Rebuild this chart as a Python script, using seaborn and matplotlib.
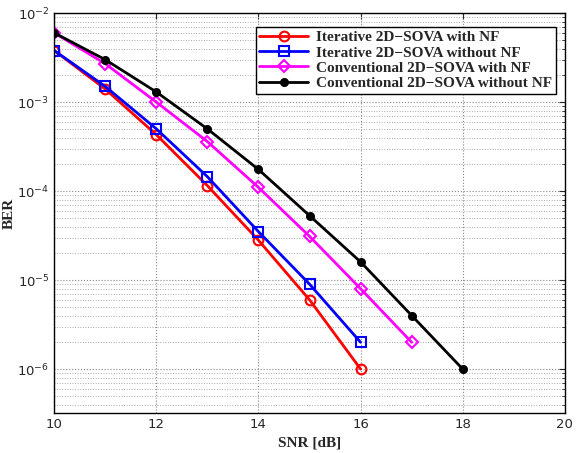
import pandas as pd
import matplotlib
matplotlib.use('Agg')
import matplotlib.pyplot as plt
import matplotlib.ticker as mticker
import seaborn as sns

snr = [10, 11, 12, 13, 14, 15, 16, 17, 18]
iter_nf = [3.8e-3, 1.4e-3, 4.3e-4, 1.15e-4, 2.8e-5, 6e-6, 1e-6]
iter_no_nf = [3.8e-3, 1.5e-3, 5e-4, 1.45e-4, 3.5e-5, 9e-6, 2e-6]
conv_nf = [6e-3, 2.7e-3, 1.0e-3, 3.6e-4, 1.1e-4, 3.1e-5, 8e-6, 2e-6]
conv_no_nf = [6e-3, 3e-3, 1.3e-3, 5e-4, 1.75e-4, 5.3e-5, 1.6e-5, 4e-6, 1e-6]

labels = ['Iterative 2D\u2212SOVA with NF', 'Iterative 2D\u2212SOVA without NF',
          'Conventional 2D\u2212SOVA with NF', 'Conventional 2D\u2212SOVA without NF']
series = [iter_nf, iter_no_nf, conv_nf, conv_no_nf]

rows = []
for lab, vals in zip(labels, series):
    for x, v in zip(snr, vals):
        rows.append({'SNR': x, 'BER': v, 'curve': lab})
df = pd.DataFrame(rows)

sns.set_style('white')
plt.rcParams['font.family'] = ['DejaVu Sans']

fig, ax = plt.subplots(figsize=(5.77, 4.53), dpi=100)

colors = ['#ff0000', '#0000ff', '#ff00ff', '#000000']
markers = ['o', 's', 'D', 'o']
for lab, col, mk in zip(labels, colors, markers):
    sub = df[df['curve'] == lab]
    filled = lab.startswith('Conventional 2D\u2212SOVA without')
    ms = 5 if filled else 7
    if mk == 'D':
        ms = 6
    sns.lineplot(data=sub, x='SNR', y='BER', ax=ax, color=col, lw=2,
                 marker=mk, markersize=ms,
                 markerfacecolor=col if filled else 'none',
                 markeredgecolor=col, markeredgewidth=1.5, label=lab)

ax.set_yscale('log')
ax.set_xlim(10, 20)
ax.set_ylim(3.2e-7, 1e-2)
ax.set_xticks([10, 12, 14, 16, 18, 20])
ax.yaxis.set_major_locator(mticker.LogLocator(base=10, numticks=10))
ax.yaxis.set_minor_locator(mticker.LogLocator(base=10, subs=range(2, 10), numticks=20))
ax.yaxis.set_minor_formatter(mticker.NullFormatter())

ax.grid(True, which='major', linestyle=':', color='#888888', lw=0.8)
ax.grid(True, which='minor', axis='y', linestyle=':', color='#aaaaaa', lw=0.7)
ax.tick_params(axis='both', which='major', labelsize=9.5, direction='in', length=4)
ax.tick_params(axis='y', which='minor', direction='in', length=2)
ax.tick_params(top=True, right=True, which='both')
for s in ax.spines.values():
    s.set_linewidth(1.0)
    s.set_color('black')

ax.set_xlabel('SNR [dB]', fontfamily='Liberation Serif', fontweight='bold', fontsize=11)
ax.set_ylabel('BER', fontfamily='Liberation Serif', fontweight='bold', fontsize=11, labelpad=1)

leg = ax.legend(loc='upper right', bbox_to_anchor=(0.997, 0.985), fancybox=False,
                edgecolor='black', framealpha=1, handlelength=3.2,
                borderpad=0.25, labelspacing=0.1, handletextpad=0.5,
                prop={'family': 'Liberation Serif', 'weight': 'bold', 'size': 11})
leg.get_frame().set_linewidth(1.0)

plt.subplots_adjust(left=0.094, right=0.979, top=0.971, bottom=0.088)
plt.savefig('out.png', dpi=100)
